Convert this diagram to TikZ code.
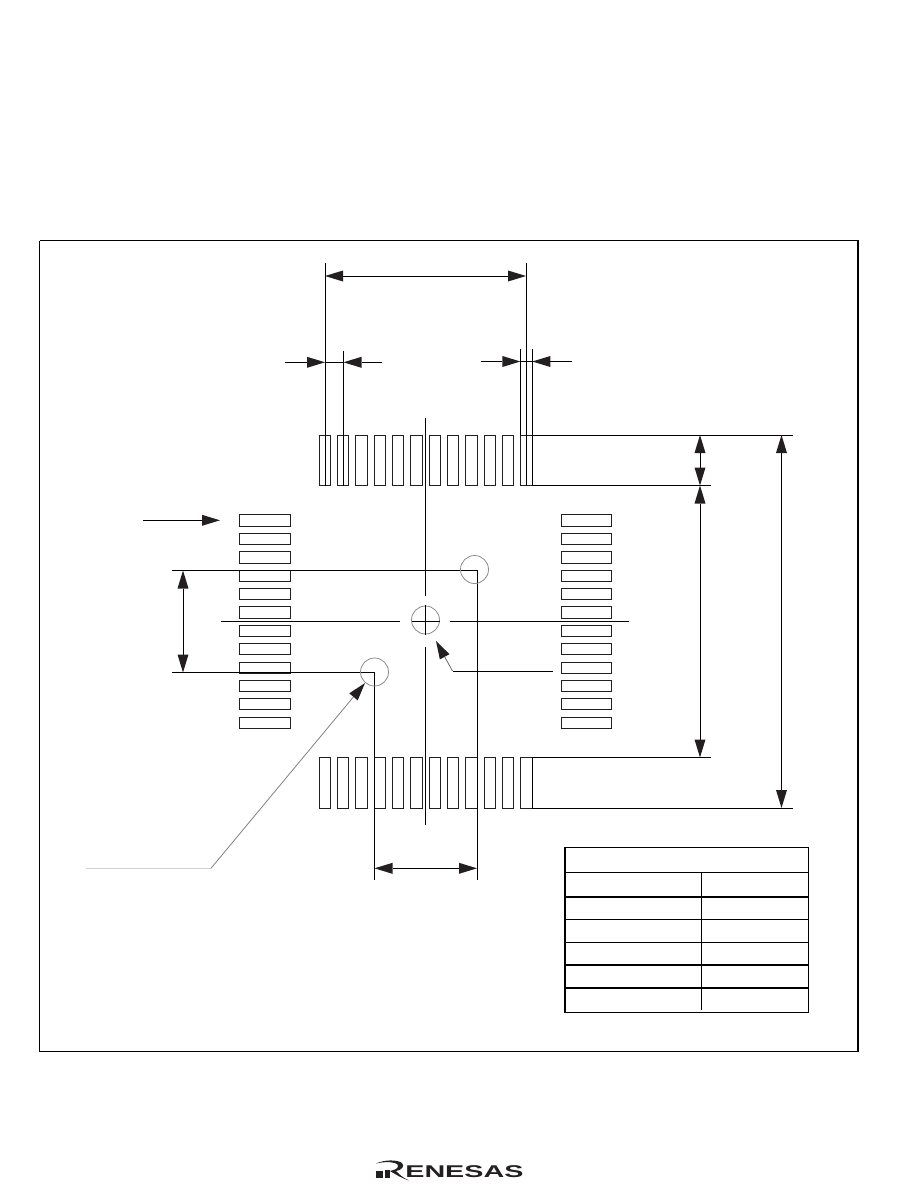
\documentclass[tikz,border=0pt]{standalone}
\usepackage{fontspec}
\setmainfont{Liberation Sans}
\usetikzlibrary{arrows.meta}
\definecolor{ink}{HTML}{231F20}
\tikzset{
  thinline/.style={line width=1pt,draw=black},
  padbox/.style={line width=1pt,draw=ink,fill=white},
  greyline/.style={line width=0.8pt,draw=black!45},
  paleline/.style={line width=0.8pt,draw=black!18},
  bighead/.tip={Triangle[length=18pt,width=11pt,color=ink,line width=0pt]},
  dim/.style={thinline,bighead-bighead},
  dimto/.style={thinline,-bighead}
}
\tikzset{
  tableline/.style={line width=1.2pt,draw=black},
  tablethick/.style={line width=2.2pt,draw=black}
}
\begin{document}
\begin{tikzpicture}[x=1pt,y=-1pt]
\useasboundingbox (0,0) rectangle (908,1203);
% frame
\draw[line width=1pt] (39.5,240.5) -- (858,240.5);
\draw[line width=1pt] (39.5,240.5) -- (39.5,1051.5) -- (858,1051.5);
\draw[line width=2pt] (858,240) -- (858,1052);

% pads
\foreach \a/\b in {319.5/330.5,337.5/348.5,355.5/367.5,374/385.5,392/403.5,410/422.5,429/440.5,447/458.5,465/477,484/495.5,502/513.5,520.5/532}{
  \draw[padbox] (\a,435) rectangle (\b,485.5);
  \draw[padbox] (\a,757.5) rectangle (\b,808);
}
\foreach \a/\b in {514.5/526.5,533.5/544.5,551.5/563,570.5/581.5,588.5/599.5,606.5/618,625.5/636.5,643.5/654.5,662.5/673.5,680.5/691.5,698.5/709.5,717.5/728.5}{
  \draw[padbox] (239.5,\a) rectangle (290.5,\b);
  \draw[padbox] (561,\a) rectangle (611.5,\b);
}

% top dimension
\coordinate (tl) at (325,276);
\coordinate (tr) at (526,276);
\draw[thinline] (325,263) -- (325,485.5);
\draw[thinline] (526.3,263) -- (526.3,485.5);
\draw[dim] (tl) -- (tr);

% small left gap
\draw[thinline] (343.5,351) -- (343.5,485.5);
\coordinate (gl) at (284.5,362.3);
\coordinate (gla) at (325,362.3);
\coordinate (gr) at (382,362.3);
\coordinate (gra) at (343.5,362.3);
\draw[dimto] (gl) -- (gla);
\draw[dimto] (gr) -- (gra);
\draw[thinline] (gla) -- (gra);

% small right gap
\draw[thinline] (520.4,349) -- (520.4,435);
\draw[thinline] (532.3,349) -- (532.3,485.5);
\coordinate (hl) at (481,361.5);
\coordinate (hla) at (520.4,361.5);
\coordinate (hr) at (571.5,361.5);
\coordinate (hra) at (532.3,361.5);
\draw[dimto] (hl) -- (hla);
\draw[dimto] (hr) -- (hra);
\draw[thinline] (hla) -- (hra);

% extension lines right
\draw[thinline] (532,435) -- (793,435);
\draw[thinline] (532,485.5) -- (711,485.5);
\draw[thinline] (532,757.5) -- (711,757.5);
\draw[thinline] (532,808) -- (793,808);
\draw[line width=1.4pt] (532.3,757) -- (532.3,808);
\draw[dim] (700,435) -- (700,485.5);
\draw[dim] (700,485.5) -- (700,757.5);
\draw[dim] (781.5,435) -- (781.5,808);

% centre lines
\draw[thinline] (425.5,418) -- (425.5,595.5);
\draw[thinline] (425.5,646.5) -- (425.5,825);
\draw[thinline] (221,621) -- (400,621);
\draw[thinline] (450,621) -- (629,621);

% left dimension and offsets
\draw[thinline] (172,570.5) -- (477,570.5) -- (477,880);
\draw[thinline] (172,672.5) -- (374.5,672.5) -- (374.5,880);
\draw[dim] (183,570.5) -- (183,672.5);
\draw[dim] (374.5,868.3) -- (477,868.3);

% circles
\draw[greyline] (474.5,569.5) circle (14);
\draw[greyline] (374.5,672) circle (14);
\draw[greyline] (425.5,620) circle (14);
\draw[thinline] (425.5,605) -- (425.5,634.5);
\draw[thinline] (411.5,621) -- (439.5,621);

% input arrow
\draw[dimto] (143,520.3) -- (220,520.3);

% centre leader
\coordinate (cl) at (452.5,671);
\draw[thinline] (553,671) -- (cl);
\draw[line width=0.8pt,draw=black!60,-bighead] (cl) -- (436,641);

% pin leader
\coordinate (pl) at (211,868.3);
\draw[paleline] (85.5,868.3) -- (pl);
\draw[line width=0.8pt,draw=black!50,-bighead] (pl) -- (365,683);

% table
\draw[tableline] (565,847.5) -- (808.3,847.5) -- (808.3,1012.5) -- (565,1012.5);
\draw[tablethick] (565,846.9) -- (565,1013.1);
\draw[tableline] (565,872.3) -- (808.3,872.3);
\draw[tablethick] (565,896.9) -- (808.3,896.9);
\draw[tableline] (565,919.3) -- (808.3,919.3);
\draw[tableline] (565,942.3) -- (808.3,942.3);
\draw[tablethick] (565,965) -- (808.3,965);
\draw[tablethick] (565,987.7) -- (808.3,987.7);
\draw[tableline] (701.5,872.3) -- (701.5,1010);

% logo
\fill[ink] (376,1170.5) rectangle (382.5,1177.5);
\fill[ink] (376,1163.5) .. controls (385,1159.5) and (397,1159.5) .. (402,1163)
  .. controls (405,1166) and (402,1170) .. (396,1171) .. controls (399,1174) and (403,1178) .. (409,1180.5)
  .. controls (402,1178.5) and (395,1174) .. (390,1171) -- (395,1169.5) .. controls (399,1168) and (399,1164) .. (395,1163)
  .. controls (389,1161.5) and (382,1162) .. (376,1163.5) -- cycle;
\fill[ink] (385,1169.5) rectangle (389.5,1177.5);
\node[anchor=base west,inner sep=0pt,font=\bfseries\fontsize{17}{17}\selectfont,xscale=1.69,transform shape,text=ink] (logo) at (405,1177.5) {ENESAS};
\end{tikzpicture}
\end{document}
